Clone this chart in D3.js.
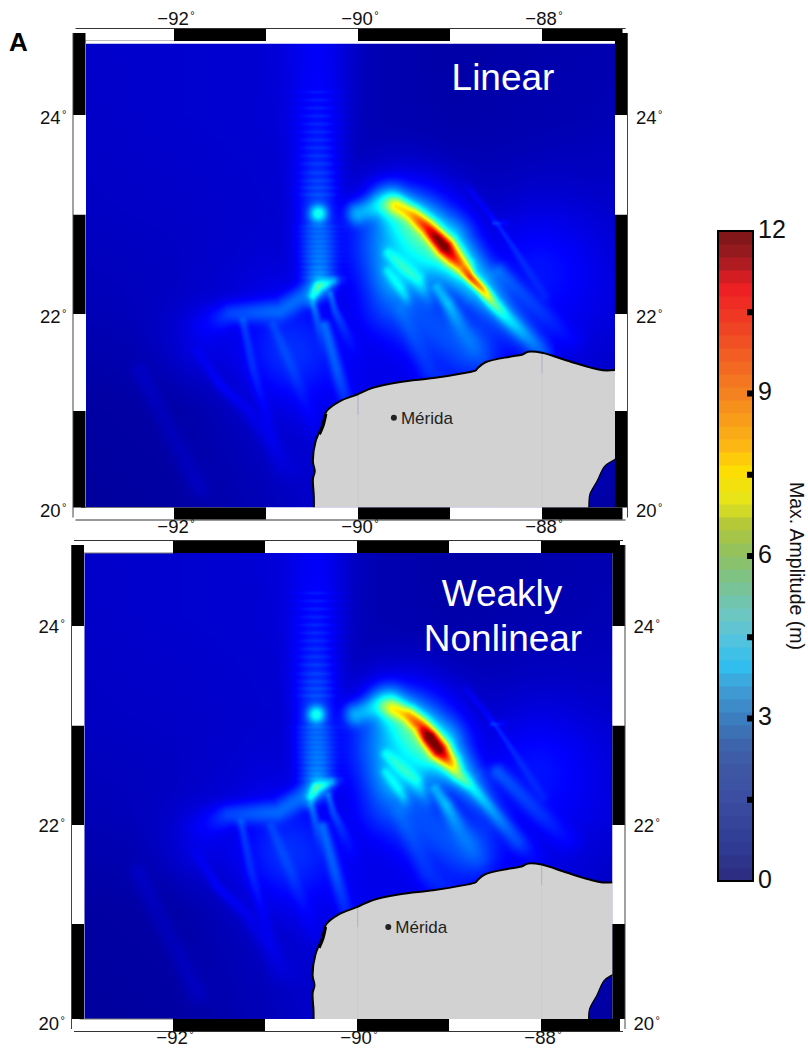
<!DOCTYPE html>
<html>
<head>
<meta charset="utf-8">
<script src="https://cdn.jsdelivr.net/npm/d3@7"></script>
<style>
  body { margin: 0; background: #fff; }
  svg { display: block; font-family: "Liberation Sans", Arial, sans-serif; }
</style>
</head>
<body>
<svg id="fig" width="808" height="1051"></svg>
<script>
// ---- values ----
const lonTicks = [-92, -90, -88]
const lonTickLabels = ["\u221292", "\u221290", "\u221288"]
const latTicks = [20, 22, 24]
const lonBandEdges = [-92, -91, -90, -89, -88]
const latBandEdges = [20, 21, 22, 23, 24]
const colorbarLabels = [0, 3, 6, 9, 12]
const colorbarMinor = [1.5, 3, 4.5, 6, 7.5, 9, 10.5]

// colorbar stops, amplitude (m) -> colour
const barValues = [0, 0.6, 1.5, 2.4, 3, 3.6, 4, 4.5, 4.9, 5.3, 6, 6.6, 7, 7.6, 8, 9, 10, 11, 11.5, 12]
const barColors = ["#2b2a7f", "#2f3a92", "#3c4da0", "#3e5ea9", "#3c7dbf", "#40a0d8", "#2fc0ef", "#57c3dc", "#6cc6c4", "#74c3a0",
  "#8dc063", "#b5c938", "#e6e51b", "#ffdd00", "#fdb913", "#f58220", "#f04e23", "#ed1c24", "#9e1c20", "#7a1416"]

// colours of the map itself
const mapValues = [0, 1.5, 4.5, 7.5, 10.5, 12]
const mapColors = ["#00008f", "#0000ff", "#00ffff", "#ffff00", "#ff0000", "#7f0000"]

// background amplitude on a coarse lon/lat grid
const bgLons = [-93, -92, -91, -90, -89, -88, -87]
const bgLats = [24.8, 24, 23, 22, 21, 20]
const bgValues = [
  [0.80, 0.85, 0.90, 0.50, 0.32, 0.38, 0.45],
  [0.75, 0.85, 0.90, 0.50, 0.35, 0.42, 0.55],
  [0.70, 0.75, 0.85, 0.50, 0.50, 0.70, 0.75],
  [0.50, 0.65, 1.00, 1.00, 1.00, 1.05, 0.90],
  [0.25, 0.30, 0.70, 1.20, 1.40, 1.20, 0.50],
  [0.20, 0.25, 0.55, 1.00, 1.00, 0.60, 0.10]
]

// ridges of high water: lists of [lon, lat, amplitude, width in degrees]
const linearCrest = [
  [[-89.62, 23.11, 3.5, 0.08], [-89.58, 23.09, 5, 0.08], [-89.40, 22.99, 6.8, 0.08], [-89.25, 22.87, 8.5, 0.08], [-89.14, 22.76, 10.5, 0.08], [-89.05, 22.67, 10.8, 0.09],
   [-88.97, 22.58, 8.8, 0.09], [-88.87, 22.48, 7.3, 0.08], [-88.78, 22.37, 8.3, 0.05], [-88.65, 22.25, 7, 0.05], [-88.53, 22.11, 4.3, 0.06],
   [-88.38, 21.96, 2.8, 0.07], [-88.16, 21.76, 1.8, 0.08], [-87.99, 21.60, 1.2, 0.09]],
  [[-89.65, 23.10, 3.6, 0.17], [-89.10, 22.68, 4.2, 0.25], [-88.70, 22.30, 3.2, 0.19], [-88.40, 22.00, 1.9, 0.16], [-88.1, 21.7, 1.0, 0.16]]
]
const nonlinearCrest = [
  [[-89.65, 23.09, 3.2, 0.08], [-89.60, 23.07, 4.5, 0.08], [-89.43, 23.00, 6.8, 0.08], [-89.30, 22.90, 8, 0.08], [-89.20, 22.78, 11.5, 0.08], [-89.09, 22.65, 10.5, 0.09],
   [-88.98, 22.53, 7, 0.08], [-88.89, 22.41, 4.5, 0.07], [-88.73, 22.27, 2.8, 0.06], [-88.58, 22.11, 2.2, 0.06], [-88.43, 21.94, 1.7, 0.07], [-88.24, 21.73, 1.2, 0.09], [-88.1, 21.6, 0.5, 0.1]],
  [[-89.65, 23.10, 3.6, 0.17], [-89.15, 22.68, 4.2, 0.23], [-88.80, 22.35, 2.6, 0.16], [-88.5, 22.0, 1.0, 0.14]]
]
const sharedRidges = [
  // beam to the north and its focus
  [[-90.42, 24.9, 0.7, 0.26], [-90.42, 24.2, 0.8, 0.24], [-90.43, 23.65, 1.1, 0.2], [-90.43, 23.0, 1.7, 0.17], [-90.42, 22.55, 1.9, 0.15], [-90.42, 22.3, 2.0, 0.13]],
  [[-90.43, 23.01, 3.8, 0.08]],
  // cusp under the beam
  [[-90.52, 22.12, 1.2, 0.06], [-90.49, 22.18, 3.0, 0.05], [-90.43, 22.28, 3.7, 0.05], [-90.27, 22.33, 2.4, 0.045], [-90.18, 22.34, 0.8, 0.05]],
  // band to the west
  [[-90.41, 22.28, 1.9, 0.1], [-90.85, 22.03, 1.6, 0.1], [-91.39, 22.0, 1.4, 0.1], [-91.66, 21.88, 0.6, 0.14]],
  [[-91.7, 21.7, 0.5, 0.3]],
  // glow among the rays
  [[-90.75, 21.6, 1.1, 0.42]],
  // rays below the cusp
  [[-90.49, 22.11, 1.8, 0.035], [-90.45, 21.96, 1.4, 0.04], [-90.39, 21.68, 0.6, 0.05], [-90.36, 21.5, 0.1, 0.06]],
  [[-90.30, 22.20, 1.6, 0.03], [-90.25, 22.03, 1.3, 0.04], [-90.07, 21.68, 0.5, 0.07], [-90.0, 21.5, 0.1, 0.08]],
  [[-90.36, 21.88, 1.6, 0.05], [-90.23, 21.42, 1.4, 0.06], [-90.14, 21.12, 0.9, 0.07], [-89.98, 20.62, 0.2, 0.09]],
  [[-90.92, 21.88, 1.0, 0.05], [-90.71, 21.42, 0.9, 0.06], [-90.47, 20.82, 0.3, 0.09]],
  [[-91.25, 21.93, 1.2, 0.04], [-91.14, 21.42, 1.0, 0.05], [-90.99, 20.92, 0.6, 0.06], [-90.85, 20.41, 0.2, 0.08]],
  [[-91.75, 21.62, 0.5, 0.05], [-91.50, 21.27, 0.8, 0.05], [-91.21, 21.02, 0.6, 0.06], [-90.74, 20.41, 0.2, 0.1]],
  [[-92.37, 21.42, 0.3, 0.07], [-91.72, 20.2, 0.3, 0.08]],
  // blob and arch west of the crest
  [[-90.10, 22.95, 1.0, 0.1], [-90.00, 23.01, 2.8, 0.11], [-89.79, 23.09, 2.5, 0.1], [-89.62, 23.08, 3.4, 0.11]],
  // broad lobe under the crest
  [[-89.46, 22.75, 3.2, 0.42]],
  [[-89.55, 22.38, 2.2, 0.24]],
  // glow south of the crest
  [[-89.6, 22.1, 1.3, 0.28], [-88.8, 21.7, 1.4, 0.28]],
  // broken ridges inside the lobe
  [[-89.72, 22.66, 1.0, 0.05], [-89.67, 22.61, 2.6, 0.06], [-89.49, 22.46, 2.8, 0.065], [-89.35, 22.35, 3, 0.07], [-89.24, 22.15, 1.3, 0.07], [-89.2, 22.0, 0.3, 0.08]],
  [[-89.72, 22.47, 0.8, 0.05], [-89.68, 22.43, 2.2, 0.05], [-89.54, 22.26, 2.5, 0.055], [-89.49, 22.18, 2.1, 0.05], [-89.44, 22.06, 0.6, 0.06]],
  [[-89.18, 22.32, 1.0, 0.05], [-89.14, 22.26, 2.2, 0.06], [-89.02, 22.10, 2.6, 0.065], [-88.86, 21.83, 1.4, 0.09], [-88.67, 21.56, 0.8, 0.11]],
  [[-89.54, 22.03, 1.0, 0.08], [-89.22, 21.42, 0.8, 0.1], [-89.0, 21.22, 0.5, 0.12]],
  // east of the crest
  [[-88.46, 22.43, 1.5, 0.08], [-88.24, 22.23, 1.2, 0.08], [-87.99, 22.00, 0.9, 0.09], [-87.7, 21.75, 0.5, 0.11]],
  [[-88.85, 23.32, 0.2, 0.03], [-88.78, 23.24, 0.7, 0.03], [-88.60, 23.04, 0.8, 0.03], [-88.46, 22.87, 1.1, 0.03], [-88.27, 22.61, 0.9, 0.035], [-87.97, 22.18, 0.6, 0.05]],
  [[-88.53, 22.91, 1.1, 0.02], [-88.38, 22.92, 0.7, 0.03]],
  [[-88.05, 22.5, 0.8, 0.5]]
]
// ripple rows across the beam
const rippleLats = [24.23, 24.15, 24.07, 23.99, 23.91, 23.83, 23.75, 23.67, 23.59, 23.51, 23.42, 23.34, 23.27, 23.20,
  22.88, 22.83, 22.78, 22.73, 22.68, 22.63, 22.58, 22.53, 22.47, 22.42, 22.37]
const rippleLon = -90.43
const rippleAmp = 0.3

// coast, west and north side
const coastLons = [-90.48, -90.48, -90.49, -90.47, -90.49, -90.46, -90.39, -90.34, -90.20, -90.01, -89.84, -89.54, -89.18, -88.86, -88.72, -88.70, -88.62, -88.35, -88.22, -88.15, -88.00, -87.73, -87.48, -87.34, -87.1]
const coastLats = [19.9, 20.12, 20.30, 20.38, 20.48, 20.69, 20.85, 21.00, 21.10, 21.17, 21.24, 21.30, 21.34, 21.39, 21.42, 21.44, 21.50, 21.56, 21.58, 21.61, 21.60, 21.52, 21.45, 21.42, 21.43]
// coast, south-east corner
const eastLons = [-87.1, -87.21, -87.32, -87.40, -87.48, -87.49, -87.49]
const eastLats = [20.58, 20.50, 20.43, 20.28, 20.14, 20.04, 19.9]
// dark lagoon on the west shore
const lagoonLons = [-90.35, -90.38, -90.42]
const lagoonLats = [20.97, 20.85, 20.76]
const gridLons = [-90, -88]
const meridaLon = [-89.61, -89.66]
const meridaLat = [20.93, 20.97]

// ---- panels ----
const panels = [
  { id: "a", left: 86, right: 615, top: 43.5, bottom: 507.5, bandLeft: 72.5, bandRight: 627.5, bandTop: 29, bandBottom: 519.5,
    lonAt: d3.scaleLinear().domain([-92, -88]).range([174, 542]),
    latAt: [508, 314, 115], fieldDx: 0, fieldDy: 0, landDx: 0, crest: linearCrest, city: 0, titles: [["Linear", 503, 90]], bottomLabel: 537, latLabelDy: 2.5, topLabels: true },
  { id: "b", left: 84.5, right: 612.5, top: 552.5, bottom: 1019, bandLeft: 71, bandRight: 625, bandTop: 541, bandBottom: 1031,
    lonAt: d3.scaleLinear().domain([-92, -88]).range([173, 541]),
    latAt: [1023, 825, 626], fieldDx: -1, fieldDy: -10, landDx: 0.7, crest: nonlinearCrest, city: 1, titles: [["Weakly", 502, 606], ["Nonlinear", 503, 651]], bottomLabel: 1048, latLabelDy: 1, topLabels: false }
]

const svg = d3.select("#fig")

const mapColor = d3.scaleLinear().domain(mapValues).range(mapColors).clamp(true)
const lut = d3.range(1201).map(i => d3.rgb(mapColor(i / 100)))
const bgX = d3.scaleLinear().domain(bgLons).range(d3.range(bgLons.length)).clamp(true)
const bgY = d3.scaleLinear().domain(bgLats).range(d3.range(bgLats.length)).clamp(true)

const background = (lon, lat) => {
  const fx = bgX(lon), fy = bgY(lat)
  const i = Math.min(Math.floor(fx), bgLons.length - 2), j = Math.min(Math.floor(fy), bgLats.length - 2)
  const tx = fx - i, ty = fy - j
  const top = bgValues[j][i] * (1 - tx) + bgValues[j][i + 1] * tx
  const bot = bgValues[j + 1][i] * (1 - tx) + bgValues[j + 1][i + 1] * tx
  return top * (1 - ty) + bot * ty
}

const draw_field = (p, x, y) => {
  const W = Math.ceil(p.right - p.left), H = Math.ceil(p.bottom - p.top)
  const canvas = document.createElement("canvas")
  canvas.width = W
  canvas.height = H
  const ctx = canvas.getContext("2d")
  const img = ctx.createImageData(W, H)

  // ridges in pixels
  const pxPerDeg = Math.abs(x(1) - x(0))
  const ridges = sharedRidges.concat(p.crest).map(r => r.map(q => ({ x: x(q[0]), y: y(q[1]), a: q[2], w: q[3] * pxPerDeg })))
  const ripples = rippleLats.map(la => y(la))
  const rx = x(rippleLon)

  for (let j = 0; j < H; j++) {
    const py = p.top + j + 0.5
    const lat = y.invert(py)
    for (let i = 0; i < W; i++) {
      const px = p.left + i + 0.5
      let sum2 = 0
      for (const r of ridges) {
        let best = 0
        if (r.length == 1) {
          const dx = px - r[0].x, dy = py - r[0].y
          best = r[0].a * Math.exp(-(dx * dx + dy * dy) / (2 * r[0].w * r[0].w))
        }
        for (let s = 0; s < r.length - 1; s++) {
          const a = r[s], b = r[s + 1]
          const ex = b.x - a.x, ey = b.y - a.y
          let t = ((px - a.x) * ex + (py - a.y) * ey) / (ex * ex + ey * ey)
          t = t < 0 ? 0 : t > 1 ? 1 : t
          const dx = px - a.x - t * ex, dy = py - a.y - t * ey
          const w = a.w + (b.w - a.w) * t
          const d2 = (dx * dx + dy * dy) / (2 * w * w)
          if (d2 > 12) continue
          const v = (a.a + (b.a - a.a) * t) * Math.exp(-d2)
          if (v > best) best = v
        }
        sum2 += best * best
      }
      let v = background(x.invert(px), lat) + Math.sqrt(sum2)
      // ripple rows add on top of the beam
      const bx = (px - rx) / 16
      if (Math.abs(bx) < 2.5) {
        const across = Math.exp(-bx * bx / 2)
        for (const ry of ripples) {
          const d = (py - ry) / 1.4
          if (Math.abs(d) < 3) v += rippleAmp * across * Math.exp(-d * d / 2)
        }
      }
      const c = lut[Math.max(0, Math.min(1200, Math.round(v * 100)))]
      const k = (j * W + i) * 4
      img.data[k] = c.r
      img.data[k + 1] = c.g
      img.data[k + 2] = c.b
      img.data[k + 3] = 255
    }
  }
  ctx.putImageData(img, 0, 0)
  svg.append("image")
    .attr("x", p.left).attr("y", p.top).attr("width", W).attr("height", H)
    .attr("preserveAspectRatio", "none")
    .attr("href", canvas.toDataURL())
}

const add_degree = (sel) => {
  sel.selectAll("text").each(function () {
    d3.select(this).append("tspan")
      .attr("font-size", 11).attr("dy", "-0.55em").attr("dx", 1.5).text("\u00b0")
  })
}

const draw_panel = (p) => {
  // tick scales for the frame
  const lonT = p.lonAt
  const latT = d3.scaleLinear().domain(latTicks).range(p.latAt)
  // the raster sits a little off the frame in the lower panel, the land does not
  const x = d3.scaleLinear().domain(lonT.domain()).range(lonT.range().map(v => v + p.fieldDx))
  const y = d3.scaleLinear().domain(latTicks).range(p.latAt.map(v => v + p.fieldDy))
  const xLand = d3.scaleLinear().domain(lonT.domain()).range(lonT.range().map(v => v + p.landDx))
  const yLand = latT

  draw_field(p, x, y)

  const clip = "clip-" + p.id
  svg.append("clipPath").attr("id", clip).append("rect")
    .attr("x", p.left).attr("y", p.top).attr("width", p.right - p.left).attr("height", p.bottom - p.top)
  const map = svg.append("g").attr("clip-path", `url(#${clip})`)

  const coast = coastLons.map((d, i) => [xLand(d), yLand(coastLats[i])])
  const east = eastLons.map((d, i) => [xLand(d), yLand(eastLats[i])])
  const lagoon = lagoonLons.map((d, i) => [xLand(d), yLand(lagoonLats[i])])
  const line = d3.line().curve(d3.curveCatmullRom)
  map.append("path")
    .attr("d", line(coast) + "L" + line(east).slice(1) + "Z")
    .attr("fill", "#d2d2d2")
  // faint meridians over the land
  gridLons.forEach(lon => {
    const top = d3.bisector(d => d[0]).center(coast, xLand(lon))
    map.append("line").attr("x1", xLand(lon)).attr("x2", xLand(lon))
      .attr("y1", coast[top][1]).attr("y2", p.bottom)
      .attr("stroke", "#c8c8cc").attr("stroke-width", 0.8)
    map.append("line").attr("x1", xLand(lon)).attr("x2", xLand(lon))
      .attr("y1", coast[top][1]).attr("y2", coast[top][1] + 20)
      .attr("stroke", "#a9a9c8").attr("stroke-width", 0.8)
  })
  map.append("path").attr("d", line(coast)).attr("fill", "none").attr("stroke", "#000").attr("stroke-width", 2)
  map.append("path").attr("d", line(lagoon)).attr("fill", "none").attr("stroke", "#000").attr("stroke-width", 3.2)
  map.append("path").attr("d", line(east)).attr("fill", "none").attr("stroke", "#000").attr("stroke-width", 1.2)

  // city
  const cx = lonT(meridaLon[p.city]), cy = latT(meridaLat[p.city])
  svg.append("circle").attr("cx", cx).attr("cy", cy).attr("r", 3).attr("fill", "#222")
  svg.append("text").attr("x", cx + 7).attr("y", cy + 6.5)
    .attr("font-size", 17).attr("fill", "#222").text("M\u00e9rida")

  p.titles.forEach(t => {
    svg.append("text").attr("x", t[1]).attr("y", t[2]).attr("text-anchor", "middle")
      .attr("font-size", 37).attr("fill", "#fff").text(t[0])
  })

  // checkered frame
  const bandW = 12
  const lonEdges = [p.left - 5].concat(lonBandEdges.map(d => lonT(d)), [p.bandRight - 5])
  const latEdges = [p.bottom].concat(latBandEdges.slice(1).map(d => latT(d)), [p.bandTop + 4])
  const frame = svg.append("g")
  const bands = d3.pairs(lonEdges)
  ;[p.bandTop, p.bandBottom - bandW].forEach(by => {
    bands.forEach((b, i) => {
      frame.append("rect").attr("x", b[0]).attr("y", by).attr("width", b[1] - b[0]).attr("height", bandW)
        .attr("fill", i % 2 ? "#000" : "#fff")
    })
    const edge = by == p.bandTop ? by - 0.5 : by + bandW + 0.5
    frame.append("line").attr("x1", p.bandLeft + 3).attr("x2", p.bandRight - 2)
      .attr("y1", edge).attr("y2", edge)
      .attr("stroke", "#333").attr("stroke-width", 1)
    const inner = by == p.bandTop ? by + bandW : by
    frame.append("line").attr("x1", p.left - 5).attr("x2", lonT(-92))
      .attr("y1", inner).attr("y2", inner)
      .attr("stroke", "#777").attr("stroke-width", 1)
  })
  ;[p.left - 13, p.right].forEach((bx, n) => {
    d3.pairs(latEdges).forEach((b, i) => {
      frame.append("rect").attr("x", bx).attr("y", b[1]).attr("width", 12.5).attr("height", b[0] - b[1])
        .attr("fill", i % 2 ? "#fff" : "#000")
    })
    const ox = n ? bx + 12.5 : bx
    frame.append("line").attr("x1", ox).attr("x2", ox).attr("y1", p.bandTop + 4).attr("y2", p.bandBottom - 2)
      .attr("stroke", "#444").attr("stroke-width", 1)
  })
  // white line under the top band
  if (p.topLabels) {
    svg.append("rect").attr("x", p.left).attr("y", p.top - 2.5).attr("width", p.right - p.left).attr("height", 2.5).attr("fill", "#fff")
  }

  // tick labels
  const axes = [
    [d3.axisBottom(lonT).tickValues(lonTicks).tickFormat((d, i) => lonTickLabels[i]), `translate(1.5,${p.bottomLabel - 17})`],
    [d3.axisLeft(latT).tickValues(latTicks).tickFormat(d3.format("d")), `translate(${p.bandLeft - 6},${p.latLabelDy})`],
    [d3.axisRight(latT).tickValues(latTicks).tickFormat(d3.format("d")), `translate(${p.bandRight + 8.5},${p.latLabelDy})`]
  ]
  if (p.topLabels) {
    axes.push([d3.axisTop(lonT).tickValues(lonTicks).tickFormat((d, i) => lonTickLabels[i]), `translate(1.5,${p.bandTop - 4})`])
  }
  axes.forEach(a => {
    const g = svg.append("g").attr("transform", a[1])
      .call(a[0].tickSize(0).tickPadding(0))
    g.select(".domain").remove()
    g.attr("font-size", 18.5).attr("font-family", null)
    g.selectAll("text").attr("fill", "#111")
    add_degree(g)
  })
}

panels.forEach(draw_panel)

svg.append("text").attr("x", 9).attr("y", 51).attr("font-size", 26).attr("font-weight", "bold").text("A")

// ---- colorbar ----
const barX = 718, barW = 35
const barY = d3.scaleLinear().domain([0, 12]).range([881, 231])
const barColor = d3.scaleLinear().domain(barValues).range(barColors)
const barSteps = d3.range(0, 12, 0.24)
svg.append("g").selectAll("rect").data(barSteps).join("rect")
  .attr("x", barX).attr("width", barW)
  .attr("y", d => barY(d + 0.24)).attr("height", d => barY(d) - barY(d + 0.24) + 0.5)
  .attr("fill", d => barColor(d + 0.12))
svg.append("rect").attr("x", barX).attr("y", 231).attr("width", barW).attr("height", 650)
  .attr("fill", "none").attr("stroke", "#000").attr("stroke-width", 2)
svg.append("g").selectAll("rect").data(colorbarMinor).join("rect")
  .attr("x", barX + barW - 6).attr("width", 6).attr("y", d => barY(d) - 3).attr("height", 6).attr("fill", "#000")
const barAxis = svg.append("g").attr("transform", `translate(${barX + barW + 5},-2)`)
  .call(d3.axisRight(barY).tickValues(colorbarLabels).tickSize(0).tickPadding(0))
barAxis.select(".domain").remove()
barAxis.attr("font-size", 25).attr("font-family", null)
barAxis.selectAll("text").attr("fill", "#111")

svg.append("text").attr("transform", "translate(790,566) rotate(90)")
  .attr("text-anchor", "middle").attr("font-size", 19.5).attr("fill", "#111").text("Max. Amplitude (m)")
</script>
</body>
</html>
